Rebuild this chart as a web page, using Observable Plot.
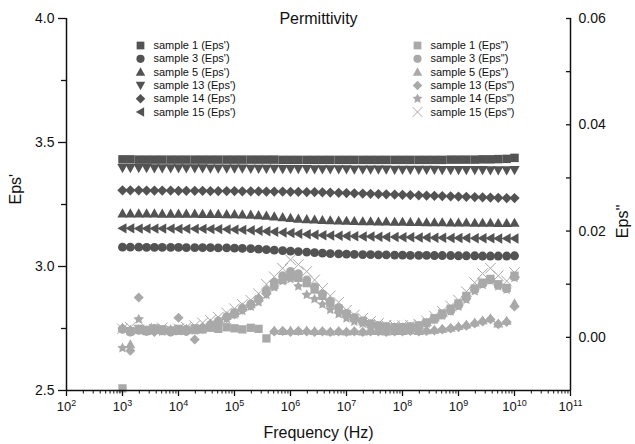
<!DOCTYPE html>
<html><head><meta charset="utf-8">
<script src="https://cdn.jsdelivr.net/npm/d3@7"></script>
<script src="https://cdn.jsdelivr.net/npm/@observablehq/plot@0.6"></script>
<style>body{margin:0;background:#fff}#chart{width:635px;height:444px}</style>
</head><body><div id="chart"></div>
<script>
// ---------- data ----------
const logFreq = [3.00,3.14,3.29,3.43,3.57,3.71,3.86,4.00,4.14,4.29,4.43,4.57,4.71,4.86,5.00,5.14,5.29,5.43,5.57,5.71,5.86,6.00,6.14,6.29,6.43,6.57,6.71,6.86,7.00,7.14,7.29,7.43,7.57,7.71,7.86,8.00,8.14,8.29,8.43,8.57,8.71,8.86,9.00,9.14,9.29,9.43,9.57,9.71,9.86,10.00];

const sampleNames = ["sample 1","sample 3","sample 5","sample 13","sample 14","sample 15"];

// Eps' (left axis)
const epsR_s1 = [3.432,3.432,3.431,3.431,3.431,3.431,3.431,3.431,3.431,3.431,3.431,3.431,3.431,3.431,3.431,3.431,3.431,3.431,3.431,3.431,3.430,3.430,3.430,3.430,3.430,3.430,3.430,3.430,3.430,3.430,3.430,3.430,3.430,3.430,3.430,3.430,3.430,3.430,3.430,3.430,3.430,3.431,3.431,3.431,3.431,3.432,3.432,3.433,3.434,3.438];
const epsR_s3 = [3.078,3.078,3.078,3.077,3.077,3.077,3.077,3.077,3.076,3.076,3.076,3.076,3.075,3.075,3.074,3.073,3.072,3.070,3.068,3.066,3.064,3.062,3.060,3.058,3.056,3.054,3.052,3.051,3.050,3.049,3.048,3.048,3.047,3.047,3.046,3.046,3.045,3.045,3.045,3.044,3.044,3.044,3.043,3.043,3.043,3.042,3.042,3.042,3.042,3.043];
const epsR_s5 = [3.214,3.214,3.214,3.214,3.214,3.213,3.213,3.213,3.213,3.213,3.212,3.212,3.212,3.211,3.211,3.210,3.209,3.207,3.205,3.202,3.199,3.196,3.193,3.191,3.189,3.187,3.186,3.185,3.184,3.183,3.182,3.182,3.181,3.181,3.180,3.180,3.179,3.179,3.178,3.178,3.178,3.177,3.177,3.177,3.176,3.176,3.176,3.175,3.175,3.176];
const epsR_s13 = [3.397,3.397,3.397,3.397,3.396,3.396,3.396,3.396,3.396,3.396,3.396,3.395,3.395,3.395,3.395,3.395,3.394,3.394,3.394,3.394,3.393,3.393,3.393,3.393,3.392,3.392,3.392,3.392,3.392,3.391,3.391,3.391,3.391,3.391,3.390,3.390,3.390,3.390,3.390,3.390,3.389,3.389,3.389,3.389,3.389,3.389,3.388,3.388,3.388,3.389];
const epsR_s14 = [3.307,3.307,3.307,3.306,3.306,3.306,3.306,3.305,3.305,3.305,3.305,3.304,3.304,3.304,3.304,3.303,3.303,3.303,3.302,3.302,3.302,3.301,3.301,3.300,3.300,3.299,3.298,3.297,3.296,3.295,3.294,3.293,3.292,3.291,3.290,3.289,3.288,3.287,3.286,3.285,3.284,3.283,3.282,3.281,3.280,3.279,3.278,3.277,3.276,3.276];
const epsR_s15 = [3.154,3.154,3.153,3.153,3.153,3.153,3.153,3.152,3.152,3.152,3.152,3.151,3.151,3.150,3.149,3.148,3.146,3.144,3.142,3.140,3.137,3.135,3.132,3.130,3.128,3.126,3.125,3.124,3.123,3.122,3.121,3.121,3.120,3.119,3.119,3.118,3.118,3.117,3.117,3.116,3.116,3.115,3.115,3.115,3.114,3.114,3.114,3.113,3.113,3.113];

// Eps'' (right axis)
const epsI_s1 = [-0.0096,0.0012,0.0016,0.0014,0.0017,0.0015,0.0013,0.0016,0.0014,0.0017,0.0015,0.0018,0.0016,0.0019,0.0017,0.0015,0.0018,0.0016,-0.0002,0.0098,0.0108,0.0114,0.0112,0.0102,0.0090,0.0078,0.0064,0.0054,0.0044,0.0036,0.0030,0.0025,0.0022,0.0020,0.0019,0.0019,0.0020,0.0022,0.0028,0.0036,0.0045,0.0054,0.0064,0.0078,0.0092,0.0103,0.0110,0.0100,0.0093,0.0116];
const epsI_s3 = [0.0015,0.0010,0.0013,0.0011,0.0014,0.0012,0.0010,0.0013,0.0011,0.0014,0.0018,0.0024,0.0031,0.0039,0.0047,0.0055,0.0063,0.0072,0.0088,0.0104,0.0116,0.0124,0.0120,0.0108,0.0095,0.0082,0.0068,0.0056,0.0045,0.0037,0.0031,0.0026,0.0022,0.0020,0.0019,0.0019,0.0020,0.0022,0.0027,0.0034,0.0042,0.0050,0.0060,0.0074,0.0090,0.0101,0.0108,0.0098,0.0092,0.0114];
const epsI_s5 = [0.0018,-0.0013,0.0015,0.0012,0.0016,0.0013,0.0015,0.0012,0.0016,0.0014,0.0020,0.0026,0.0030,0.0040,0.0045,0.0056,0.0062,0.0075,0.0090,0.0013,0.0012,0.0013,0.0012,0.0013,0.0012,0.0012,0.0011,0.0012,0.0011,0.0012,0.0011,0.0012,0.0012,0.0011,0.0012,0.0012,0.0013,0.0012,0.0013,0.0014,0.0016,0.0018,0.0021,0.0024,0.0028,0.0032,0.0036,0.0026,0.0031,0.0064];
const epsI_s13 = [0.0017,-0.0025,0.0075,0.0013,0.0010,0.0014,0.0011,0.0037,0.0012,-0.0004,0.0016,0.0022,0.0028,0.0036,0.0043,0.0052,0.0060,0.0070,0.0082,0.0011,0.0012,0.0010,0.0012,0.0011,0.0010,0.0011,0.0010,0.0011,0.0010,0.0011,0.0010,0.0011,0.0011,0.0010,0.0011,0.0011,0.0012,0.0011,0.0012,0.0013,0.0015,0.0017,0.0019,0.0022,0.0026,0.0030,0.0034,0.0025,0.0029,0.0058];
const epsI_s14 = [-0.0020,0.0014,0.0034,0.0012,0.0015,0.0011,0.0014,0.0012,0.0015,0.0013,0.0017,0.0023,0.0029,0.0035,0.0043,0.0050,0.0058,0.0066,0.0080,0.0094,0.0106,0.0110,0.0096,0.0080,0.0072,0.0062,0.0052,0.0044,0.0036,0.0030,0.0026,0.0022,0.0020,0.0019,0.0018,0.0018,0.0019,0.0021,0.0026,0.0033,0.0041,0.0049,0.0058,0.0071,0.0087,0.0099,0.0107,0.0096,0.0090,0.0112];
const epsI_s15 = [0.0016,0.0019,0.0014,0.0017,0.0015,0.0018,0.0014,0.0016,0.0019,0.0022,0.0027,0.0032,0.0038,0.0046,0.0054,0.0062,0.0070,0.0082,0.0100,0.0114,0.0130,0.0146,0.0137,0.0124,0.0108,0.0092,0.0078,0.0066,0.0051,0.0042,0.0036,0.0030,0.0026,0.0023,0.0022,0.0022,0.0023,0.0025,0.0031,0.0040,0.0049,0.0059,0.0070,0.0086,0.0103,0.0120,0.0130,0.0116,0.0106,0.0122];

// axes / ticks
const xTickExponents = [2,3,4,5,6,7,8,9,10,11];
const leftTicks = [2.5,3.0,3.5,4.0];
const leftTickLabels = ["2.5","3.0","3.5","4.0"];
const leftMinor = [2.75,3.25,3.75];
const rightTicks = [0,0.02,0.04,0.06];
const rightTickLabels = ["0.00","0.02","0.04","0.06"];
const rightMinor = [0.01,0.03,0.05];
const leftDomain = [2.5,4.0];
const rightDomain = [-0.01,0.06];

const legendReal = ["sample 1 (Eps')","sample 3 (Eps')","sample 5 (Eps')","sample 13 (Eps')","sample 14 (Eps')","sample 15 (Eps')"];
const legendImag = ["sample 1 (Eps\")","sample 3 (Eps\")","sample 5 (Eps\")","sample 13 (Eps\")","sample 14 (Eps\")","sample 15 (Eps\")"];

// ---------- symbols ----------
const R = (size) => Math.sqrt(size / Math.PI);
const symSquare = {draw(c, size){const s = R(size)*0.9; c.rect(-s,-s,2*s,2*s);}};
const symCircle = {draw(c, size){const s = R(size)*0.95; c.moveTo(s,0); c.arc(0,0,s,0,2*Math.PI);}};
const symTriUp = {draw(c, size){const s = R(size); c.moveTo(0,-1.1*s); c.lineTo(1.1*s,0.85*s); c.lineTo(-1.1*s,0.85*s); c.closePath();}};
const symTriDown = {draw(c, size){const s = R(size); c.moveTo(0,1.1*s); c.lineTo(1.1*s,-0.85*s); c.lineTo(-1.1*s,-0.85*s); c.closePath();}};
const symDiamond = {draw(c, size){const s = R(size)*1.1; c.moveTo(0,-s); c.lineTo(s,0); c.lineTo(0,s); c.lineTo(-s,0); c.closePath();}};
const symTriLeft = {draw(c, size){const s = R(size); c.moveTo(-1.1*s,0); c.lineTo(0.85*s,-1.1*s); c.lineTo(0.85*s,1.1*s); c.closePath();}};
const symStar = {draw(c, size){const s = R(size); const Ro = 1.2*s, Ri = 0.5*Ro;
  for (let k = 0; k < 10; k++) { const a = -Math.PI/2 + k*Math.PI/5, rr = k % 2 ? Ri : Ro;
    const x = rr*Math.cos(a), y = rr*Math.sin(a); if (k) c.lineTo(x,y); else c.moveTo(x,y); }
  c.closePath();}};
const symTimes = {draw(c, size){const s = R(size)*1.15; c.moveTo(-s,-s); c.lineTo(s,s); c.moveTo(s,-s); c.lineTo(-s,s);}};

const realSymbols = [symSquare, symCircle, symTriUp, symTriDown, symDiamond, symTriLeft];
const imagSymbols = [symSquare, symCircle, symTriUp, symDiamond, symStar, symTimes];
const realSeries = [epsR_s1, epsR_s3, epsR_s5, epsR_s13, epsR_s14, epsR_s15];
const imagSeries = [epsI_s1, epsI_s3, epsI_s5, epsI_s13, epsI_s14, epsI_s15];

const dark = "#535353", light = "#a9a9a9";
const toLeft = v => leftDomain[0] + (v - rightDomain[0]) * (leftDomain[1]-leftDomain[0]) / (rightDomain[1]-rightDomain[0]);

const freq = logFreq.map(e => Math.pow(10, e));
const table = (arr, map) => arr.map((v, i) => ({f: freq[i], y: map ? map(v) : v}));

const minorX = [];
for (let e = 2; e < 11; e++) for (let k = 2; k <= 9; k++) minorX.push(k * Math.pow(10, e));
const majorX = xTickExponents.map(e => Math.pow(10, e));
const blank = () => "";

const marks = [];
// data
realSeries.forEach((arr, j) => {
  marks.push(Plot.dot(table(arr), {x: "f", y: "y", symbol: realSymbols[j], r: 4.7, fill: dark, stroke: "none"}));
});
imagSeries.forEach((arr, j) => {
  const isX = imagSymbols[j] === symTimes;
  marks.push(Plot.dot(table(arr, toLeft), {x: "f", y: "y", symbol: imagSymbols[j], r: 4.6,
    fill: isX ? "none" : light, stroke: isX ? light : "none", strokeWidth: 1}));
});

// axes lines
marks.push(Plot.ruleX([1e2, 1e11], {stroke: "#111", strokeWidth: 1.5}));
marks.push(Plot.ruleY([2.5], {stroke: "#111", strokeWidth: 1.5}));

// x axis
marks.push(Plot.axisX({ticks: majorX, tickSize: 6, tickPadding: 5, label: null,
  tickFormat: d => "E" + Math.round(Math.log10(d)), fontSize: 13, stroke: "#111", color: "#111", strokeWidth: 1.3}));
marks.push(Plot.axisX({ticks: minorX, tickSize: 3.5, label: null, tickFormat: blank, strokeWidth: 1}));

// left axis
marks.push(Plot.axisY({anchor: "left", ticks: leftTicks, tickSize: 8, tickPadding: 4, label: null,
  tickFormat: d => leftTickLabels[leftTicks.findIndex(t => Math.abs(t - d) < 1e-9)], fontSize: 14, strokeWidth: 1.3}));
marks.push(Plot.axisY({anchor: "left", ticks: leftMinor, tickSize: 5, label: null, tickFormat: blank, strokeWidth: 1.3}));

// right axis (Eps'')
const rightTicksL = rightTicks.map(toLeft);
marks.push(Plot.axisY({anchor: "right", ticks: rightTicksL.concat(rightMinor.map(toLeft)), tickSize: 5, dx: -5, label: null, tickFormat: blank, strokeWidth: 1.3}));
marks.push(Plot.axisY({anchor: "right", ticks: rightTicksL, tickSize: 0, tickPadding: 8, label: null,
  tickFormat: d => rightTickLabels[rightTicksL.findIndex(t => Math.abs(t - d) < 1e-9)], fontSize: 14}));

// titles
marks.push(Plot.text(["Permittivity"], {text: d => d, frameAnchor: "top", lineAnchor: "middle", fontSize: 16, fill: "#111"}));
marks.push(Plot.text(["Frequency (Hz)"], {text: d => d, frameAnchor: "bottom", dy: 42, lineAnchor: "middle", fontSize: 16, fill: "#111"}));
marks.push(Plot.text(["Eps'"], {text: d => d, frameAnchor: "left", dx: -51, rotate: -90, lineAnchor: "middle", fontSize: 16, fill: "#111"}));
marks.push(Plot.text(["Eps''"], {text: d => d, frameAnchor: "right", dx: 52, rotate: -90, lineAnchor: "middle", fontSize: 16, fill: "#111"}));

// legends
legendReal.forEach((lab, i) => {
  marks.push(Plot.dot([lab], {frameAnchor: "top-left", dx: 74, dy: 27 + i*13.3, symbol: realSymbols[i], r: 4.3, fill: dark, stroke: "none"}));
  marks.push(Plot.text([lab], {text: d => d, frameAnchor: "top-left", dx: 87, dy: 27 + i*13.3, textAnchor: "start", lineAnchor: "middle", fontSize: 11, fill: "#111"}));
});
legendImag.forEach((lab, i) => {
  const isX = imagSymbols[i] === symTimes;
  marks.push(Plot.dot([lab], {frameAnchor: "top-left", dx: 351, dy: 27 + i*13.3, symbol: imagSymbols[i], r: 4.3,
    fill: isX ? "none" : light, stroke: isX ? light : "none", strokeWidth: 1}));
  marks.push(Plot.text([lab], {text: d => d, frameAnchor: "top-left", dx: 364, dy: 27 + i*13.3, textAnchor: "start", lineAnchor: "middle", fontSize: 11, fill: "#111"}));
});

const chart = Plot.plot({
  width: 635, height: 444,
  marginTop: 18, marginBottom: 54, marginLeft: 66, marginRight: 65,
  x: {type: "log", domain: [1e2, 1e11], axis: null, label: null},
  y: {domain: leftDomain, axis: null, label: null},
  style: {fontFamily: "'Liberation Sans', Arial, Helvetica, sans-serif", background: "#fff", color: "#111", overflow: "visible"},
  marks
});
document.getElementById("chart").appendChild(chart);

// superscript exponents on x tick labels
d3.select(chart).selectAll("text").each(function() {
  const t = this.textContent;
  if (/^E\d+$/.test(t)) {
    const sel = d3.select(this);
    sel.text(null);
    sel.append("tspan").text("10");
    sel.append("tspan").attr("dy", "-0.5em").attr("font-size", "9px").text(t.slice(1));
  }
});
</script>
</body></html>
